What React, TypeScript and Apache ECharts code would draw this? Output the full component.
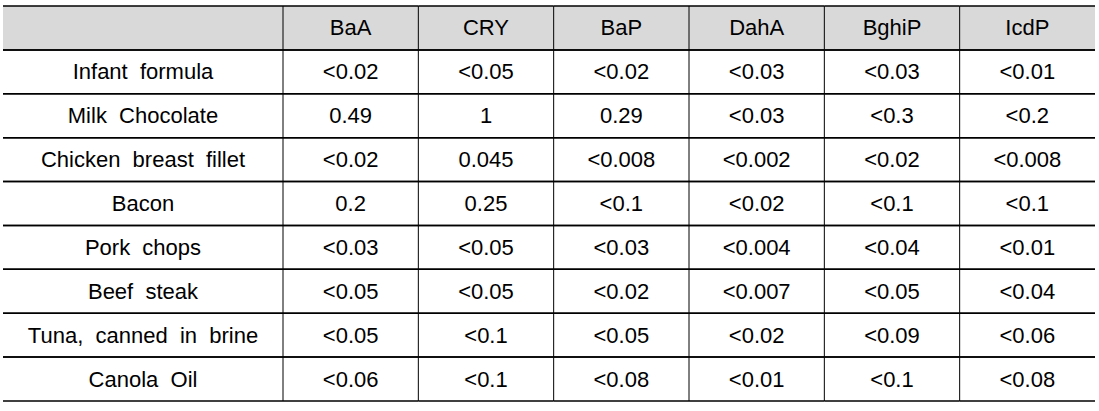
import React, { useEffect, useRef } from "react";
import * as echarts from "echarts";

const columns = ["BaA", "CRY", "BaP", "DahA", "BghiP", "IcdP"];
const foods = [
  "Infant  formula",
  "Milk  Chocolate",
  "Chicken  breast  fillet",
  "Bacon",
  "Pork  chops",
  "Beef  steak",
  "Tuna,  canned  in  brine",
  "Canola  Oil",
];
const baA = ["<0.02", "0.49", "<0.02", "0.2", "<0.03", "<0.05", "<0.05", "<0.06"];
const cry = ["<0.05", "1", "0.045", "0.25", "<0.05", "<0.05", "<0.1", "<0.1"];
const baP = ["<0.02", "0.29", "<0.008", "<0.1", "<0.03", "<0.02", "<0.05", "<0.08"];
const dahA = ["<0.03", "<0.03", "<0.002", "<0.02", "<0.004", "<0.007", "<0.02", "<0.01"];
const bghiP = ["<0.03", "<0.3", "<0.02", "<0.1", "<0.04", "<0.05", "<0.09", "<0.1"];
const icdP = ["<0.01", "<0.2", "<0.008", "<0.1", "<0.01", "<0.04", "<0.06", "<0.08"];

const valueColumns = [baA, cry, baP, dahA, bghiP, icdP];

const FONT = "'Liberation Sans', Arial, sans-serif";
const FONT_SIZE = 22;
const HEADER_BG = "#d9d9d9";
const LINE = "#000000";

export default function App() {
  const ref = useRef<HTMLDivElement>(null);

  useEffect(() => {
    if (!ref.current) return;
    const chart = echarts.init(ref.current, null, { renderer: "svg" });

    const rowCats = ["header", ...foods.map((_, i) => "r" + i)];

    // label column cells
    const labelData: number[][] = [];
    const labelTexts: string[] = [];
    rowCats.forEach((_, r) => {
      labelData.push([0, r]);
      labelTexts.push(r === 0 ? "" : foods[r - 1]);
    });

    // value cells
    const valueData: number[][] = [];
    const valueTexts: string[] = [];
    rowCats.forEach((_, r) => {
      columns.forEach((col, c) => {
        valueData.push([c, r]);
        valueTexts.push(r === 0 ? col : valueColumns[c][r - 1]);
      });
    });

    const makeRender = (texts: string[], leftLine: boolean) =>
      (params: any, api: any) => {
        const col = api.value(0);
        const row = api.value(1);
        const center = api.coord([col, row]);
        const size = api.size([1, 1]);
        const w = size[0];
        const h = size[1];
        const x0 = center[0] - w / 2;
        const y0 = center[1] - h / 2;
        const children: any[] = [];
        if (row === 0) {
          children.push({
            type: "rect",
            shape: { x: x0, y: y0, width: w, height: h },
            style: { fill: HEADER_BG },
          });
        }
        children.push({
          type: "line",
          shape: { x1: x0, y1: y0, x2: x0 + w, y2: y0 },
          style: { stroke: LINE, lineWidth: 1.5 },
        });
        children.push({
          type: "line",
          shape: { x1: x0, y1: y0 + h, x2: x0 + w, y2: y0 + h },
          style: { stroke: LINE, lineWidth: 1.5 },
        });
        if (leftLine) {
          children.push({
            type: "line",
            shape: { x1: x0, y1: y0, x2: x0, y2: y0 + h },
            style: { stroke: LINE, lineWidth: 1 },
          });
        }
        children.push({
          type: "text",
          style: {
            text: texts[params.dataIndex],
            x: center[0],
            y: center[1],
            align: "center",
            verticalAlign: "middle",
            fontSize: FONT_SIZE,
            fontFamily: FONT,
            fill: "#000000",
          },
        });
        return { type: "group", children };
      };

    chart.setOption({
      animation: false,
      grid: [
        { left: 3, top: 6, width: 280, height: 395 },
        { left: 283, top: 6, width: 812, height: 395 },
      ],
      xAxis: [
        { type: "category", gridIndex: 0, data: ["label"], show: false },
        { type: "category", gridIndex: 1, data: columns, show: false },
      ],
      yAxis: [
        { type: "category", gridIndex: 0, data: rowCats, inverse: true, show: false },
        { type: "category", gridIndex: 1, data: rowCats, inverse: true, show: false },
      ],
      series: [
        {
          type: "custom",
          xAxisIndex: 0,
          yAxisIndex: 0,
          data: labelData,
          encode: { x: 0, y: 1 },
          renderItem: makeRender(labelTexts, false),
        },
        {
          type: "custom",
          xAxisIndex: 1,
          yAxisIndex: 1,
          data: valueData,
          encode: { x: 0, y: 1 },
          renderItem: makeRender(valueTexts, true),
        },
      ],
    });

    return () => chart.dispose();
  }, []);

  return (
    <div
      ref={ref}
      style={{ position: "fixed", left: 0, top: 0, width: 1099, height: 411, background: "#ffffff" }}
    />
  );
}
